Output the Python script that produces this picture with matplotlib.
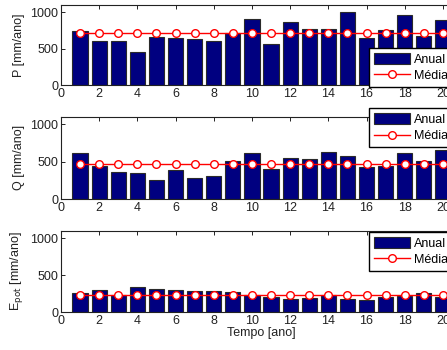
import matplotlib
matplotlib.use("Agg")
import matplotlib.pyplot as plt

plt.rcParams['font.family'] = ['Liberation Sans', 'DejaVu Sans']

anos = list(range(1, 21))
P = [743, 608, 608, 450, 658, 644, 635, 608, 716, 914,
     563, 865, 766, 766, 1009, 644, 757, 964, 671, 892]
P_media = [716] * 20
Q = [614, 444, 359, 354, 260, 381, 274, 309, 502, 614,
     395, 552, 538, 628, 574, 430, 444, 610, 502, 650]
Q_media = [462] * 20
Epot = [254, 295, 237, 339, 312, 295, 281, 281, 268, 237,
        210, 179, 192, 228, 179, 165, 210, 219, 259, 210]
Epot_media = [237] * 20

series = [(P, P_media, 'P [mm/ano]'),
          (Q, Q_media, 'Q [mm/ano]'),
          (Epot, Epot_media, r'E$_{\rm pot}$ [mm/ano]')]

W, H = 447, 350
fig = plt.figure(figsize=(W / 100, H / 100), dpi=100)

# axes boxes in pixels: (top, bottom)
boxes = [(5, 85), (116.7, 199), (230.7, 312.3)]
legend_tops = [47.7, 108, 231.7]
x0, x1 = 61, 462

for (vals, media, ylab), (top, bot), ltop in zip(series, boxes, legend_tops):
    ax = fig.add_axes([x0 / W, 1 - bot / H, (x1 - x0) / W, (bot - top) / H])
    bars = ax.bar(anos, vals, width=0.8, color='#000080', edgecolor='#2a2a2a',
                  linewidth=0.8, label='Anual', zorder=2)
    line, = ax.plot(anos, media, color='red', lw=1, marker='o', markersize=5.5,
                    markerfacecolor='white', markeredgecolor='red',
                    label='Média', zorder=3)
    ax.set_xlim(0, 21)
    ax.set_ylim(0, 1100)
    ax.set_xticks(range(0, 22, 2))
    ax.set_yticks([0, 500, 1000])
    ax.tick_params(direction='in', length=3, width=0.7, top=True, right=True,
                   labelsize=9, colors='#222222', pad=2)
    for s in ax.spines.values():
        s.set_linewidth(0.8)
        s.set_color('#222222')
    ax.set_ylabel(ylab, fontsize=9, color='#222222', labelpad=4)
    ax.legend([bars, line], ['Anual', 'Média'], loc='upper left',
              bbox_to_anchor=(369 / W, 1 - ltop / H),
              bbox_transform=fig.transFigure, fontsize=9, frameon=True,
              fancybox=False, edgecolor='black', framealpha=1,
              handlelength=2.9, handleheight=1.0, handletextpad=0.3,
              borderpad=0.4, labelspacing=0.3, borderaxespad=0)
    last = ax

last.set_xlabel('Tempo [ano]', fontsize=9, color='#222222', labelpad=0)

fig.savefig('out.png', dpi=100)
